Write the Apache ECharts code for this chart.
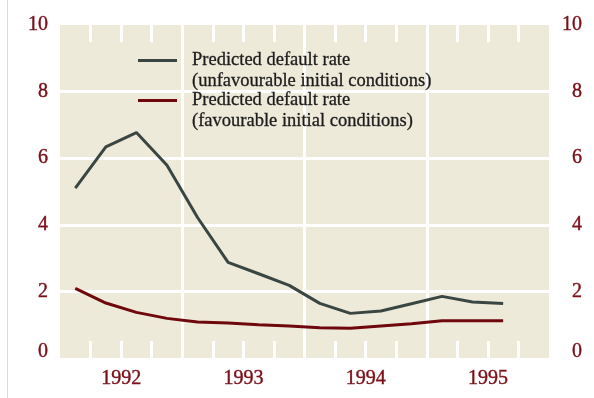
<!DOCTYPE html>
<html>
<head>
<meta charset="utf-8">
<script src="https://cdn.jsdelivr.net/npm/echarts@6/dist/echarts.min.js"></script>
<style>
  html, body { margin: 0; padding: 0; background: #ffffff; }
  #chart { width: 594px; height: 398px; }
</style>
</head>
<body>
<div id="chart"></div>
<script>
// Quarterly predicted default rates, 1992 Q1 to 1995 Q3 (per cent)
const quarters = ['1992 Q1','1992 Q2','1992 Q3','1992 Q4','1993 Q1','1993 Q2','1993 Q3','1993 Q4',
                  '1994 Q1','1994 Q2','1994 Q3','1994 Q4','1995 Q1','1995 Q2','1995 Q3'];
const unfavourable = [5.10, 6.34, 6.77, 5.79, 4.22, 2.87, 2.53, 2.18, 1.64, 1.34, 1.41, 1.63, 1.85, 1.68, 1.64];
const favourable   = [2.09, 1.65, 1.37, 1.19, 1.08, 1.05, 1.00, 0.96, 0.91, 0.89, 0.96, 1.03, 1.12, 1.12, 1.12];
const years = [1992, 1993, 1994, 1995];
const yTicks = [0, 2, 4, 6, 8, 10];

const seriesNames = [
  'Predicted default rate\n(unfavourable initial conditions)',
  'Predicted default rate\n(favourable initial conditions)'
];

const RED = '#7a0f18';
const SLATE = '#3a4642';
const WINE = '#6e080c';
const PAPER = '#eeeada';
const FONT = "'Liberation Serif', 'Times New Roman', serif";

// place each quarter at the middle of its slot on a decimal-year axis
function toPoints(values) {
  return values.map((v, i) => {
    const q = parseInt(quarters[i].slice(-1), 10);
    const yr = parseInt(quarters[i].slice(0, 4), 10);
    return [yr + (q - 0.5) / 4, v];
  });
}

// quarter boundaries inside each year
const quarterMarks = [];
years.forEach(y => { quarterMarks.push(y + 0.25, y + 0.5, y + 0.75); });

// short white quarter marks reaching in from the top and bottom edges
function quarterTicks() {
  return {
    show: true,
    inside: true,
    length: 17,
    customValues: quarterMarks,
    lineStyle: { color: '#ffffff', width: 3 }
  };
}

function yLabel(extra) {
  return Object.assign({
    color: RED,
    fontFamily: FONT,
    fontSize: 20,
    lineHeight: 12,
    textBorderColor: RED,
    textBorderWidth: 0.4,
    verticalAlignMinLabel: 'bottom'
  }, extra);
}

const xRange = { min: years[0], max: years[years.length - 1] + 1 };

const chart = echarts.init(document.getElementById('chart'), null, { renderer: 'canvas' });
chart.setOption({
  animation: false,
  backgroundColor: '#ffffff',
  graphic: [{
    type: 'line',
    shape: { x1: 7.5, y1: 0, x2: 7.5, y2: 398 },
    style: { stroke: '#e4dcc2', lineWidth: 1 },
    silent: true
  }],
  grid: {
    left: 60, right: 45, top: 25, bottom: 40,
    show: true,
    backgroundColor: PAPER,
    borderWidth: 0
  },
  legend: {
    left: 138,
    top: 29,
    orient: 'vertical',
    padding: 0,
    itemGap: -23,
    itemWidth: 39,
    itemHeight: 3,
    icon: 'rect',
    selectedMode: false,
    data: seriesNames,
    // blank leading line keeps the key line level with the first text line
    formatter: name => '\n' + name,
    textStyle: {
      color: '#1c1c1c',
      fontFamily: FONT,
      fontSize: 18.5,
      lineHeight: 21,
      textBorderColor: '#1c1c1c',
      textBorderWidth: 0.3,
      padding: [0, 0, 0, 10]
    }
  },
  xAxis: [{
    // year labels and full-height year dividers
    type: 'value',
    position: 'bottom',
    min: xRange.min,
    max: xRange.max,
    interval: 1,
    axisLine: { show: false },
    axisTick: { show: false },
    splitLine: {
      show: true, showMinLine: false, showMaxLine: false,
      lineStyle: { color: '#ffffff', width: 3 }
    },
    axisLabel: {
      customValues: years.map(y => y + 0.5),
      formatter: v => String(Math.floor(v)),
      color: RED,
      fontFamily: FONT,
      fontSize: 20,
      textBorderColor: RED,
      textBorderWidth: 0.4,
      margin: 11
    }
  }, {
    // quarter marks along the bottom edge
    type: 'value',
    position: 'bottom',
    min: xRange.min,
    max: xRange.max,
    interval: 1,
    axisLine: { show: false },
    axisTick: quarterTicks(),
    splitLine: { show: false },
    axisLabel: { show: false }
  }, {
    // quarter marks along the top edge
    type: 'value',
    position: 'top',
    min: xRange.min,
    max: xRange.max,
    interval: 1,
    axisLine: { show: false },
    axisTick: quarterTicks(),
    splitLine: { show: false },
    axisLabel: { show: false }
  }],
  yAxis: [{
    type: 'value',
    position: 'left',
    min: yTicks[0],
    max: yTicks[yTicks.length - 1],
    interval: 2,
    axisLine: { show: false },
    axisTick: { show: false },
    splitLine: {
      show: true, showMinLine: false, showMaxLine: false,
      lineStyle: { color: '#ffffff', width: 3 }
    },
    axisLabel: yLabel({ margin: 12 })
  }, {
    type: 'value',
    position: 'right',
    min: yTicks[0],
    max: yTicks[yTicks.length - 1],
    interval: 2,
    axisLine: { show: false },
    axisTick: { show: false },
    splitLine: { show: false },
    axisLabel: yLabel({ margin: 33, align: 'right' })
  }],
  series: [{
    name: seriesNames[0],
    type: 'line',
    xAxisIndex: 0,
    yAxisIndex: 0,
    data: toPoints(unfavourable),
    symbol: 'none',
    color: SLATE,
    lineStyle: { color: SLATE, width: 3 },
    z: 3
  }, {
    name: seriesNames[1],
    type: 'line',
    xAxisIndex: 0,
    yAxisIndex: 0,
    data: toPoints(favourable),
    symbol: 'none',
    color: WINE,
    lineStyle: { color: WINE, width: 3 },
    z: 3
  }]
});
</script>
</body>
</html>
